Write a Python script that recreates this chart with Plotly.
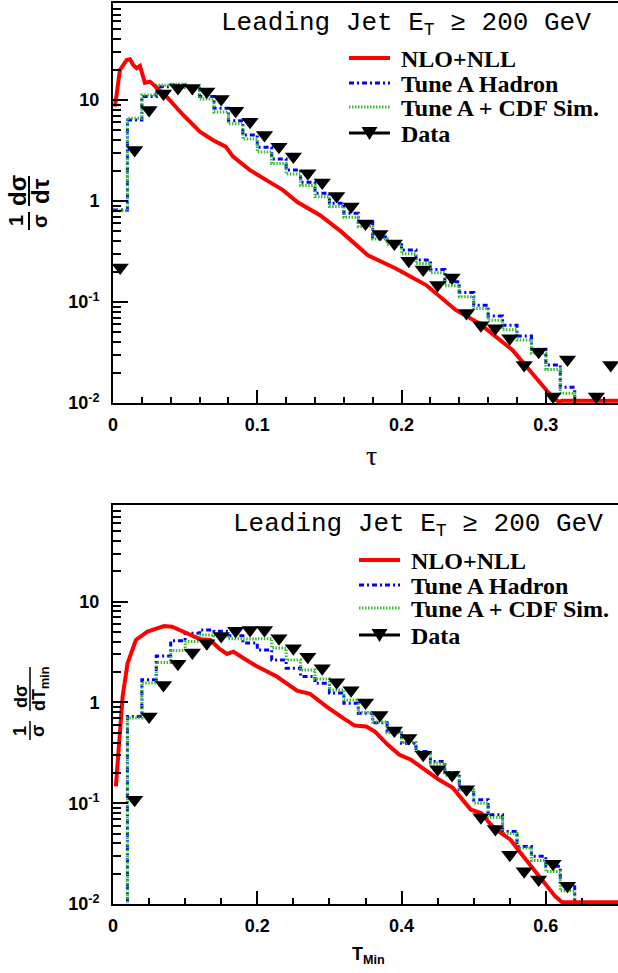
import plotly.graph_objects as go

# ---------------- data: top panel (thrust tau) ----------------
TAU_EDGES = [0.00, 0.01, 0.02, 0.03, 0.04, 0.05, 0.06, 0.07, 0.08, 0.09, 0.10,
             0.11, 0.12, 0.13, 0.14, 0.15, 0.16, 0.17, 0.18, 0.19, 0.20, 0.21,
             0.22, 0.23, 0.24, 0.25, 0.26, 0.27, 0.28, 0.29, 0.30, 0.31, 0.32, 0.33]
HADRON_TAU = [0.815, 6.34, 10.8, 13.5, 14.1, 13.5, 10.8, 8.27, 6.24, 4.5, 3.4,
              2.6, 2.03, 1.53, 1.19, 0.95, 0.755, 0.62, 0.44, 0.395, 0.327, 0.26,
              0.21, 0.159, 0.124, 0.093, 0.0726, 0.0587, 0.046, 0.034, 0.0238, 0.0143, 0.0]
CDFSIM_TAU = [0.80, 6.6, 11.2, 14.0, 14.3, 13.2, 10.2, 7.6, 5.8, 4.1, 3.05,
              2.35, 1.85, 1.42, 1.1, 0.88, 0.69, 0.56, 0.42, 0.37, 0.30, 0.24,
              0.195, 0.145, 0.113, 0.086, 0.066, 0.053, 0.042, 0.031, 0.0215, 0.0125, 0.0]
DATA_TAU_X = [0.005, 0.015, 0.025, 0.035, 0.045, 0.055, 0.065, 0.075, 0.085, 0.095,
              0.105, 0.115, 0.125, 0.135, 0.145, 0.155, 0.165, 0.175, 0.185, 0.195,
              0.205, 0.215, 0.225, 0.235, 0.245, 0.255, 0.265, 0.275, 0.285, 0.295,
              0.305, 0.315, 0.335, 0.345]
DATA_TAU_Y = [0.22, 3.2, 7.96, 11.6, 13.1, 13.1, 12.1, 10.2, 7.8, 6.1,
              4.5, 3.45, 2.75, 1.88, 1.52, 1.12, 0.88, 0.60, 0.47, 0.38,
              0.256, 0.21, 0.147, 0.175, 0.078, 0.059, 0.055, 0.0437, 0.0238, 0.0322,
              0.0116, 0.027, 0.0116, 0.0238]
NLO_TAU_X = [0.0014, 0.0048, 0.0095, 0.0118, 0.014, 0.0164, 0.0187, 0.0221, 0.0256, 0.029,
             0.0371, 0.0486, 0.0602, 0.0694, 0.0781, 0.0832, 0.0947, 0.1063, 0.1178, 0.128,
             0.1432, 0.158, 0.1766, 0.196, 0.217, 0.2377, 0.2538, 0.2768, 0.2907, 0.3022,
             0.3087, 0.3115, 0.35]
NLO_TAU_Y = [8.6, 19.8, 24.9, 25.3, 22.2, 20.6, 21.7, 14.8, 15.2, 13.8,
             10.8, 7.1, 4.85, 4.0, 3.45, 2.75, 2.03, 1.61, 1.28, 0.97,
             0.726, 0.50, 0.29, 0.215, 0.147, 0.083, 0.0615, 0.0335, 0.0197, 0.0125,
             0.0103, 0.0105, 0.0105]

# ---------------- data: bottom panel (thrust minor) ----------------
TMIN_EDGES = [0.00, 0.02, 0.04, 0.06, 0.08, 0.10, 0.12, 0.14, 0.16, 0.18, 0.20,
              0.22, 0.24, 0.26, 0.28, 0.30, 0.32, 0.34, 0.36, 0.38, 0.40, 0.42,
              0.44, 0.46, 0.48, 0.50, 0.52, 0.54, 0.56, 0.58, 0.60, 0.62, 0.64, 0.66]
HADRON_TMIN = [0.0, 0.724, 1.68, 2.9, 4.1, 4.87, 5.25, 5.1, 4.6, 3.9,
               3.32, 2.64, 2.19, 1.81, 1.55, 1.24, 0.98, 0.78, 0.63, 0.515,
               0.395, 0.326, 0.26, 0.202, 0.136, 0.108, 0.077, 0.0525, 0.0373, 0.0297,
               0.0237, 0.0156, 0.0]
CDFSIM_TMIN = [0.0, 0.70, 1.56, 2.5, 3.28, 4.02, 4.68, 4.6, 4.3, 4.27,
               4.3, 3.47, 2.64, 2.1, 1.71, 1.33, 1.06, 0.8, 0.64, 0.5,
               0.4, 0.32, 0.25, 0.19, 0.135, 0.1, 0.072, 0.05, 0.036, 0.027,
               0.021, 0.0135, 0.0]
DATA_TMIN_X = [0.03, 0.05, 0.07, 0.09, 0.11, 0.13, 0.15, 0.17, 0.19, 0.21,
               0.23, 0.25, 0.27, 0.29, 0.31, 0.33, 0.35, 0.37, 0.39, 0.41,
               0.43, 0.45, 0.47, 0.49, 0.51, 0.53, 0.55, 0.57, 0.59, 0.61, 0.63]
DATA_TMIN_Y = [0.108, 0.724, 1.49, 2.42, 3.13, 3.87, 4.57, 5.16, 5.25, 5.25,
               4.34, 3.45, 2.85, 2.19, 1.59, 1.32, 1.0, 0.753, 0.526, 0.443,
               0.303, 0.218, 0.191, 0.138, 0.0724, 0.0555, 0.0309, 0.0211, 0.0175, 0.0251, 0.0152]
NLO_TMIN_X = [0.004, 0.0087, 0.0133, 0.0202, 0.0317, 0.0478, 0.0708, 0.082, 0.1007, 0.121,
              0.135, 0.1467, 0.158, 0.167, 0.181, 0.2, 0.227, 0.255, 0.273, 0.296,
              0.319, 0.335, 0.351, 0.363, 0.381, 0.397, 0.413, 0.432, 0.452, 0.471,
              0.485, 0.496, 0.51, 0.526, 0.5375, 0.551, 0.565, 0.581, 0.597, 0.613,
              0.6225, 0.626, 0.70]
NLO_TMIN_Y = [0.147, 0.426, 1.14, 2.45, 4.17, 5.05, 5.74, 5.65, 4.93, 4.24,
              4.17, 3.45, 3.03, 3.19, 2.75, 2.27, 1.81, 1.31, 1.22, 0.91,
              0.70, 0.59, 0.577, 0.515, 0.38, 0.303, 0.27, 0.215, 0.171, 0.142,
              0.108, 0.0863, 0.08, 0.059, 0.0507, 0.0435, 0.0321, 0.0228, 0.0162, 0.0119,
              0.0104, 0.0104, 0.0104]

NAMES = ["NLO+NLL", "Tune A Hadron", "Tune A + CDF Sim.", "Data"]
TAU_TICKS = [0, 0.1, 0.2, 0.3]
TAU_TICKTEXT = ["0", "0.1", "0.2", "0.3"]
TMIN_TICKS = [0, 0.2, 0.4, 0.6]
TMIN_TICKTEXT = ["0", "0.2", "0.4", "0.6"]
Y_TICKS = [0.01, 0.1, 1, 10]
Y_TICKTEXT = ["10<sup>-2</sup>", "10<sup>-1</sup>", "1", "10"]

# ---------------- layout geometry ----------------
W, H = 618, 973
ML, MR, MT, MB = 113, 0, 3, 69
PW = W - ML - MR
PH = H - MT - MB


def px(xp):
    return (xp - ML) / PW


def py(yp):
    return (H - MB - yp) / PH


TOP_DOM = [py(403), 1.0]
BOT_DOM = [0.0, py(505)]
FLOOR = 1e-3  # empty bins are drawn below the axis floor

RED = "#ff0000"
BLUE = "#0000ff"
GREEN = "#33bb33"
BLUE_DASH = "5px,3px,2px,3px"
GREEN_DASH = "1.5px,1.5px"


def step_xy(edges, vals):
    ys = [v if v > 0 else FLOOR for v in vals]
    return list(edges[:-1]) + [edges[-1]], ys + [ys[-1]]


fig = go.Figure()


def add_panel(xa, ya, edges, hadron, sim, dx, dy, nx, ny):
    hx, hy = step_xy(edges, hadron)
    sx, sy = step_xy(edges, sim)
    fig.add_trace(go.Scatter(x=hx, y=hy, mode="lines", line_shape="hv", name=NAMES[1],
                             line=dict(color=BLUE, width=3, dash=BLUE_DASH),
                             xaxis=xa, yaxis=ya, showlegend=False))
    fig.add_trace(go.Scatter(x=sx, y=sy, mode="lines", line_shape="hv", name=NAMES[2],
                             line=dict(color=GREEN, width=3, dash=GREEN_DASH),
                             xaxis=xa, yaxis=ya, showlegend=False))
    fig.add_trace(go.Scatter(x=nx, y=ny, mode="lines", name=NAMES[0],
                             line=dict(color=RED, width=4),
                             xaxis=xa, yaxis=ya, showlegend=False))
    fig.add_trace(go.Scatter(x=dx, y=dy, mode="markers", name=NAMES[3], cliponaxis=False,
                             marker=dict(symbol="triangle-down", size=15, color="black"),
                             xaxis=xa, yaxis=ya, showlegend=False))


add_panel("x", "y", TAU_EDGES, HADRON_TAU, CDFSIM_TAU, DATA_TAU_X, DATA_TAU_Y, NLO_TAU_X, NLO_TAU_Y)
add_panel("x2", "y2", TMIN_EDGES, HADRON_TMIN, CDFSIM_TMIN, DATA_TMIN_X, DATA_TMIN_Y, NLO_TMIN_X, NLO_TMIN_Y)

TICKFONT = dict(family="Liberation Sans, Arial, sans-serif", size=18, color="black", weight="bold")
y_minor = [k * 10 ** e for e in (-2, -1, 0, 1) for k in range(2, 10) if k * 10 ** e < 91]


def xaxis_cfg(rng, ticks, text, minor_step, anchor, nmax):
    minor_vals = [round(i * minor_step, 4) for i in range(1, nmax)]
    minor_vals = [v for v in minor_vals if all(abs(v - t) > 1e-6 for t in ticks)]
    return dict(range=rng, tickmode="array", tickvals=ticks, ticktext=text, anchor=anchor,
                ticks="inside", ticklen=13, tickwidth=1.5, tickcolor="black",
                showline=True, linewidth=2, linecolor="black", mirror=True,
                showgrid=False, zeroline=False, tickfont=TICKFONT, ticklabelstandoff=4,
                minor=dict(tickvals=minor_vals, ticks="inside", ticklen=6, tickwidth=1.5,
                           tickcolor="black", showgrid=False),
                domain=[0, 1])


def yaxis_cfg(dom, anchor):
    return dict(type="log", range=[-2, 1.96], domain=dom, anchor=anchor,
                tickmode="array", tickvals=Y_TICKS, ticktext=Y_TICKTEXT,
                ticks="inside", ticklen=15, tickwidth=1.5, tickcolor="black",
                showline=True, linewidth=2, linecolor="black", mirror=False,
                showgrid=False, zeroline=False, tickfont=TICKFONT, ticklabelstandoff=8,
                minor=dict(tickvals=y_minor, ticks="inside", ticklen=8, tickwidth=1.5,
                           tickcolor="black", showgrid=False))


annotations = []
shapes = []

SERIF = "Liberation Serif, Times New Roman, serif"
SANS = "Liberation Sans, Arial, sans-serif"
MONO = "Liberation Mono, Courier New, monospace"


def ann(text, x, y, size, family, xanchor="center", yanchor="middle", angle=0, height=None):
    a = dict(text=text, x=px(x), y=py(y), xref="paper", yref="paper",
             showarrow=False, xanchor=xanchor, yanchor=yanchor, textangle=angle,
             font=dict(size=size, family=family, color="black"))
    if height is not None:
        a["height"] = height
    annotations.append(a)


def line_shape(x0, y0, x1, y1, color, width, dash="solid"):
    shapes.append(dict(type="line", xref="paper", yref="paper", x0=px(x0), y0=py(y0),
                       x1=px(x1), y1=py(y1), line=dict(color=color, width=width, dash=dash)))


def legend(x0, x1, xt, rows):
    cols = [(RED, 4, "solid"), (BLUE, 3, BLUE_DASH), (GREEN, 3, GREEN_DASH), ("black", 3, "solid")]
    for (c, w, d), r, name in zip(cols, rows, NAMES):
        line_shape(x0, r, x1, r, c, w, d)
        ann("<b>%s</b>" % name, xt, r + 1, 24, SERIF, xanchor="left", height=22)
    xm, r = (x0 + x1) / 2, rows[3]
    shapes.append(dict(type="path", xref="paper", yref="paper",
                       path="M %f,%f L %f,%f L %f,%f Z" % (px(xm - 8), py(r - 6), px(xm + 8), py(r - 6),
                                                            px(xm), py(r + 7)),
                       fillcolor="black", line=dict(color="black", width=0)))


# titles inside panels
ann("Leading Jet E<sub>T</sub> \u2265 200 GeV", 406, 24, 26, MONO)
ann("Leading Jet E<sub>T</sub> \u2265 200 GeV", 418, 525, 26, MONO)

legend(349, 390, 399, [58, 83, 107, 133])
legend(359, 400, 409, [560, 585, 608, 635])

# y titles (stacked fractions)
ann("<b>1</b>", 16, 221, 20, SANS, angle=-90)
ann("<b>\u03c3</b>", 40, 221, 20, SANS, angle=-90)
ann("<b>d\u03c3</b>", 18, 191, 24, SANS, angle=-90)
ann("<b>d\u03c4</b>", 41, 191, 24, SANS, angle=-90)
line_shape(29, 212, 29, 230, "black", 2)
line_shape(29, 176, 29, 206, "black", 2)

ann("<b>1</b>", 20, 731, 18, SANS, angle=-90)
ann("<b>\u03c3</b>", 38, 731, 18, SANS, angle=-90)
ann("<b>d\u03c3</b>", 21, 697, 18, SANS, angle=-90)
ann("<b>dT<sub>min</sub></b>", 40, 689, 18, SANS, angle=-90)
line_shape(30, 721, 30, 740, "black", 1.5)
line_shape(30, 667, 30, 711, "black", 1.5)

# x titles
ann("\u03c4", 371, 455, 28, SERIF)
ann("<b>T<sub>Min</sub></b>", 368, 955, 18, SANS)

fig.update_layout(
    width=W, height=H,
    margin=dict(l=ML, r=MR, t=MT, b=MB, autoexpand=False),
    paper_bgcolor="white", plot_bgcolor="white",
    showlegend=False,
    xaxis=xaxis_cfg([0, 0.35], TAU_TICKS, TAU_TICKTEXT, 0.02, "y", 18),
    xaxis2=xaxis_cfg([0, 0.7], TMIN_TICKS, TMIN_TICKTEXT, 0.05, "y2", 15),
    yaxis=yaxis_cfg(TOP_DOM, "x"),
    yaxis2=yaxis_cfg(BOT_DOM, "x2"),
    annotations=annotations,
    shapes=shapes,
)

fig.write_html("out.html", config={"displayModeBar": False},
               post_script="document.body.style.margin='0';document.body.style.overflow='hidden';")
